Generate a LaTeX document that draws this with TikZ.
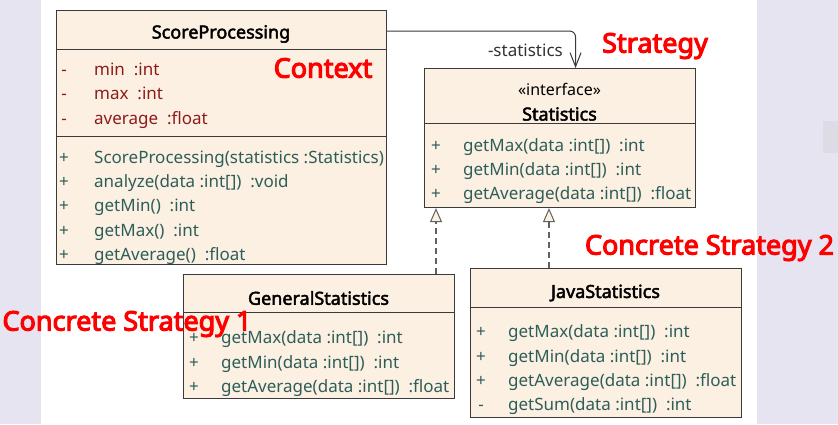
\documentclass[tikz,border=0pt]{standalone}
\usepackage{fontspec}
\setmainfont{Noto Sans}[AutoFakeBold=2.5]
\newfontfamily\heavyfont{Noto Sans}[FakeBold=4]
\usetikzlibrary{arrows.meta}
\definecolor{boxfill}{HTML}{FBF0E1}
\definecolor{attrc}{HTML}{8E1B1B}
\definecolor{methc}{HTML}{2E5E5A}
\definecolor{lav}{HTML}{E6E4F0}
\definecolor{lavdark}{HTML}{DDDCE5}
\definecolor{edge}{HTML}{3A3A3A}
\tikzset{
  umlbox/.style={draw=edge, line width=1.1pt, fill=boxfill, anchor=north west, inner sep=0pt},
  sepline/.style={draw=edge, line width=1pt},
  umltitle/.style={font=\fontsize{18}{18}\selectfont\bfseries, text=black, inner sep=0pt},
  stereo/.style={font=\fontsize{16}{16}\selectfont, text=black, inner sep=0pt},
  vis/.style={font=\fontsize{17}{17}\selectfont, inner sep=0pt, anchor=base},
  member/.style={font=\fontsize{17}{17}\selectfont, inner sep=0pt, anchor=base west},
  attr/.style={text=attrc},
  meth/.style={text=methc},
  redlabel/.style={font=\heavyfont\fontsize{27}{27}\selectfont, text=red, inner sep=0pt},
  assoc/.style={draw=edge, line width=1pt, rounded corners=6pt, -{Straight Barb[length=14pt,width=11pt,line width=1pt]}},
  realize/.style={draw=edge!80, line width=1.2pt, dash pattern=on 6pt off 4pt, -{Triangle[open,length=14pt,width=12pt,fill=boxfill,line width=1pt]}},
  edgelabel/.style={font=\fontsize{17}{17}\selectfont, text=black!80, inner sep=0pt},
}
\begin{document}
\begin{tikzpicture}[x=1pt,y=-1pt]
% background
\fill[lav] (0,0) rectangle (838,424);
\fill[white] (41,0) rectangle (757,424);
\fill[lavdark] (823,121) rectangle (838,153);
\useasboundingbox (0,0) rectangle (838,424);

% ScoreProcessing (Context)
\node[umlbox, minimum width=330pt, minimum height=254pt] (sp) at (56,10) {};
\draw[sepline] (56,49) -- (386,49);
\draw[sepline] (56,136) -- (386,136);
\node[umltitle] (spt) at (221,34) {ScoreProcessing};
\node[vis,attr] (spv1) at (64,75) {-};
\node[member,attr] (spa1) at (94,75) {min\ \ :int};
\node[vis,attr] (spv2) at (64,99) {-};
\node[member,attr] (spa2) at (94,99) {max\ \ :int};
\node[vis,attr] (spv3) at (64,124) {-};
\node[member,attr] (spa3) at (94,124) {average\ \ :float};
\node[vis,meth] (spv4) at (64,163) {+};
\node[member,meth] (spm1) at (94,163) {ScoreProcessing(statistics :Statistics)};
\node[vis,meth] (spv5) at (64,187) {+};
\node[member,meth] (spm2) at (94,187) {analyze(data :int[])\ \ :void};
\node[vis,meth] (spv6) at (64,211) {+};
\node[member,meth] (spm3) at (94,211) {getMin()\ \ :int};
\node[vis,meth] (spv7) at (64,236) {+};
\node[member,meth] (spm4) at (94,236) {getMax()\ \ :int};
\node[vis,meth] (spv8) at (64,260) {+};
\node[member,meth] (spm5) at (94,260) {getAverage()\ \ :float};

% Statistics (Strategy)
\node[umlbox, minimum width=271pt, minimum height=139pt] (st) at (424,68) {};
\draw[sepline] (424,123) -- (695,123);
\node[stereo] (sts) at (559.5,89) {«interface»};
\node[umltitle] (stt) at (559.5,114) {Statistics};
\node[vis,meth] (stv1) at (436,151) {+};
\node[member,meth] (stm1) at (463,151) {getMax(data :int[])\ \ :int};
\node[vis,meth] (stv2) at (436,175) {+};
\node[member,meth] (stm2) at (463,175) {getMin(data :int[])\ \ :int};
\node[vis,meth] (stv3) at (436,199) {+};
\node[member,meth] (stm3) at (463,199) {getAverage(data :int[])\ \ :float};

% GeneralStatistics
\node[umlbox, minimum width=271pt, minimum height=124pt] (gs) at (183,274) {};
\draw[sepline] (183,312) -- (454,312);
\node[umltitle] (gst) at (318.5,298) {GeneralStatistics};
\node[vis,meth] (gsv1) at (194,343) {+};
\node[member,meth] (gsm1) at (221,343) {getMax(data :int[])\ \ :int};
\node[vis,meth] (gsv2) at (194,368) {+};
\node[member,meth] (gsm2) at (221,368) {getMin(data :int[])\ \ :int};
\node[vis,meth] (gsv3) at (194,392) {+};
\node[member,meth] (gsm3) at (221,392) {getAverage(data :int[])\ \ :float};

% JavaStatistics
\node[umlbox, minimum width=271pt, minimum height=149pt] (js) at (470,268) {};
\draw[sepline] (470,307) -- (741,307);
\node[umltitle] (jst) at (605.5,293) {JavaStatistics};
\node[vis,meth] (jsv1) at (481,337) {+};
\node[member,meth] (jsm1) at (508,337) {getMax(data :int[])\ \ :int};
\node[vis,meth] (jsv2) at (481,362) {+};
\node[member,meth] (jsm2) at (508,362) {getMin(data :int[])\ \ :int};
\node[vis,meth] (jsv3) at (481,386) {+};
\node[member,meth] (jsm3) at (508,386) {getAverage(data :int[])\ \ :float};
\node[vis,meth] (jsv4) at (481,410) {-};
\node[member,meth] (jsm4) at (508,410) {getSum(data :int[])\ \ :int};

% connectors
\coordinate (assocStart) at ([yshift=-21pt]sp.north east);
\coordinate (assocEnd) at ([xshift=15.5pt]st.north);
\draw[assoc] (assocStart) -| (assocEnd);
\node[edgelabel, anchor=east] (assocLbl) at (563,50) {-statistics};

\coordinate (rlA) at ([xshift=12pt]st.south west);
\coordinate (rlB) at ([xshift=125pt]st.south west);
\draw[realize] (gs.north -| rlA) -- (rlA);
\draw[realize] (js.north -| rlB) -- (rlB);

% red annotations
\node[redlabel] (lblContext) at (323,68) {Context};
\node[redlabel] (lblStrategy) at (655,46) {Strategy};
\node[redlabel] (lblCS2) at (709.5,248) {Concrete Strategy 2};
\node[redlabel] (lblCS1) at (127,324) {Concrete Strategy 1};
\end{tikzpicture}
\end{document}
